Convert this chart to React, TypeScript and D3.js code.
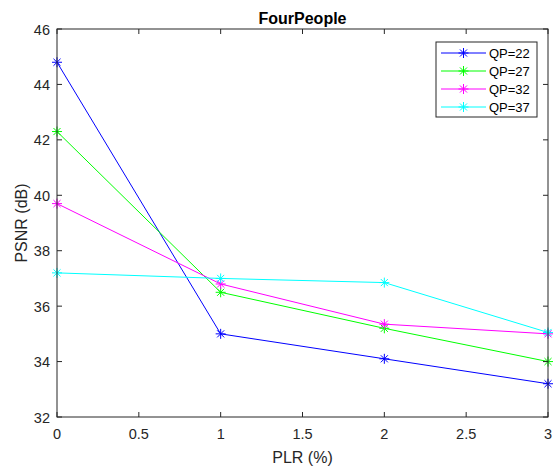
import React, { useEffect, useRef } from 'react';
import * as d3 from 'd3';

const plr = [0, 1, 2, 3];
const seriesNames = ['QP=22', 'QP=27', 'QP=32', 'QP=37'];
const qp22 = [44.8, 35.0, 34.1, 33.2];
const qp27 = [42.3, 36.5, 35.2, 34.0];
const qp32 = [39.7, 36.8, 35.35, 35.0];
const qp37 = [37.2, 37.0, 36.85, 35.05];
const colors = ['#0000ff', '#00ff00', '#ff00ff', '#00ffff'];
const xTicks = [0, 0.5, 1, 1.5, 2, 2.5, 3];
const yTicks = [32, 34, 36, 38, 40, 42, 44, 46];

const W = 554, H = 468;
const margin = { left: 57, top: 29, right: 6, bottom: 51 };

// matlab style '*' marker
const starPath = (r: number) => {
  const d = r * 0.7071;
  return `M0,${-r}L0,${r}M${-r},0L${r},0M${-d},${-d}L${d},${d}M${-d},${d}L${d},${-d}`;
};

const App = () => {
  const svgRef = useRef<SVGSVGElement>(null);

  useEffect(() => {
    const svg = d3.select(svgRef.current);
    svg.selectAll('*').remove();
    const font = '"Liberation Sans", Arial, sans-serif';

    const x = d3.scaleLinear().domain([0, 3]).range([margin.left, W - margin.right]);
    const y = d3.scaleLinear().domain([32, 46]).range([H - margin.bottom, margin.top]);
    const x0 = x(0), x1 = x(3), y0 = y(32), y1 = y(46);

    svg.append('rect').attr('width', W).attr('height', H).attr('fill', 'white');

    const all = [qp22, qp27, qp32, qp37];
    const line = d3.line<number>().x((d, i) => x(plr[i])).y(d => y(d));

    all.forEach((vals, k) => {
      svg.append('path')
        .attr('d', line(vals))
        .attr('fill', 'none')
        .attr('stroke', colors[k])
        .attr('stroke-width', 1);
      svg.selectAll(null)
        .data(vals)
        .enter()
        .append('path')
        .attr('transform', (d, i) => `translate(${x(plr[i])},${y(d)})`)
        .attr('d', starPath(5))
        .attr('fill', 'none')
        .attr('stroke', colors[k])
        .attr('stroke-width', 1);
    });

    // axes box + ticks
    const axisColor = '#262626';
    svg.append('rect')
      .attr('x', x0).attr('y', y1)
      .attr('width', x1 - x0).attr('height', y0 - y1)
      .attr('fill', 'none').attr('stroke', axisColor).attr('stroke-width', 1);

    const tl = 5;
    xTicks.forEach(t => {
      svg.append('line').attr('x1', x(t)).attr('x2', x(t)).attr('y1', y0).attr('y2', y0 - tl).attr('stroke', axisColor);
      svg.append('line').attr('x1', x(t)).attr('x2', x(t)).attr('y1', y1).attr('y2', y1 + tl).attr('stroke', axisColor);
      svg.append('text')
        .attr('x', x(t)).attr('y', y0 + 22)
        .attr('text-anchor', 'middle')
        .style('font-family', font).style('font-size', '14.5px').attr('fill', axisColor)
        .text(String(t));
    });
    yTicks.forEach(t => {
      svg.append('line').attr('x1', x0).attr('x2', x0 + tl).attr('y1', y(t)).attr('y2', y(t)).attr('stroke', axisColor);
      svg.append('line').attr('x1', x1).attr('x2', x1 - tl).attr('y1', y(t)).attr('y2', y(t)).attr('stroke', axisColor);
      svg.append('text')
        .attr('x', x0 - 7).attr('y', y(t) + 5.5)
        .attr('text-anchor', 'end')
        .style('font-family', font).style('font-size', '14.5px').attr('fill', axisColor)
        .text(String(t));
    });

    // title and labels
    svg.append('text')
      .attr('x', (x0 + x1) / 2).attr('y', 23.5)
      .attr('text-anchor', 'middle')
      .style('font-family', font).style('font-size', '16px').style('font-weight', 'bold')
      .attr('fill', '#000')
      .text('FourPeople');
    svg.append('text')
      .attr('x', (x0 + x1) / 2).attr('y', 462.5)
      .attr('text-anchor', 'middle')
      .style('font-family', font).style('font-size', '16px').attr('fill', axisColor)
      .text('PLR (%)');
    svg.append('text')
      .attr('transform', `translate(26.5,${(y0 + y1) / 2}) rotate(-90)`)
      .attr('text-anchor', 'middle')
      .style('font-family', font).style('font-size', '16px').attr('fill', axisColor)
      .text('PSNR (dB)');

    // legend
    const lg = svg.append('g').attr('transform', 'translate(436,42)');
    lg.append('rect').attr('width', 101).attr('height', 75)
      .attr('fill', 'white').attr('stroke', axisColor).attr('stroke-width', 1);
    seriesNames.forEach((name, k) => {
      const ry = 11 + k * 18;
      lg.append('line').attr('x1', 5).attr('x2', 50).attr('y1', ry).attr('y2', ry)
        .attr('stroke', colors[k]);
      lg.append('path').attr('transform', `translate(27.5,${ry})`).attr('d', starPath(5))
        .attr('fill', 'none').attr('stroke', colors[k]);
      lg.append('text').attr('x', 53).attr('y', ry + 4.5)
        .style('font-family', font).style('font-size', '13px').attr('fill', '#000')
        .text(name);
    });
  }, []);

  return (
    <svg ref={svgRef} width={W} height={H} style={{ position: 'absolute', left: 0, top: 0, display: 'block' }}></svg>
  );
};

export default App;
